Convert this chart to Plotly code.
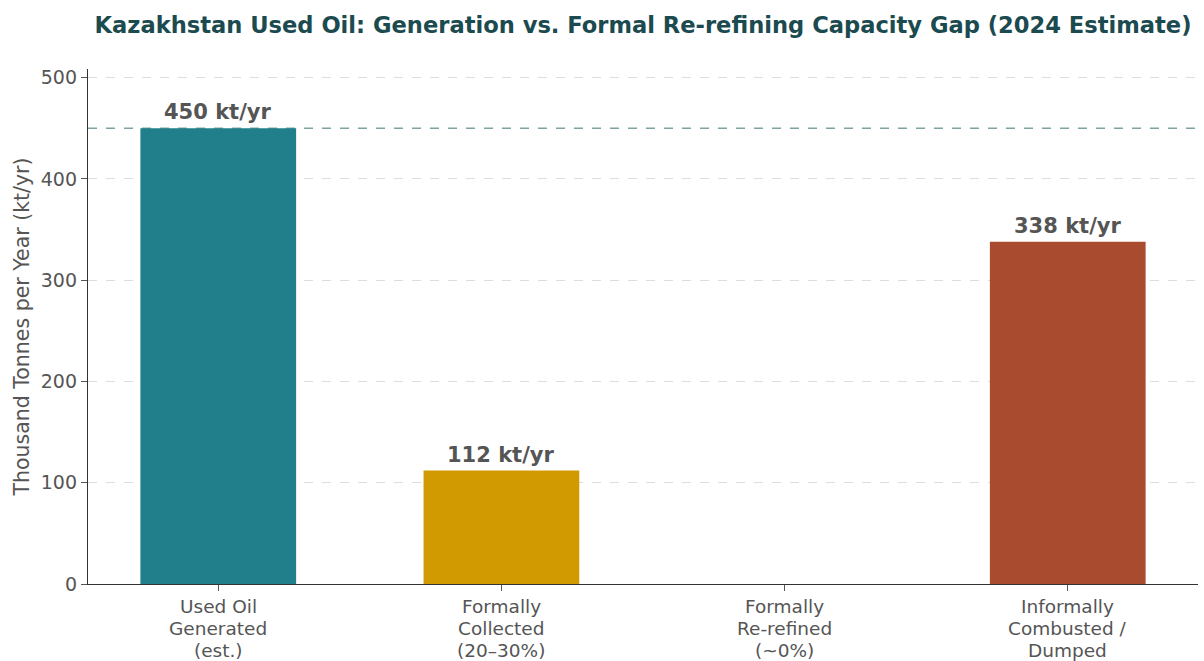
import plotly.graph_objects as go

categories = ["Used Oil<br>Generated<br>(est.)", "Formally<br>Collected<br>(20–30%)",
              "Formally<br>Re-refined<br>(~0%)", "Informally<br>Combusted /<br>Dumped"]
values = [450, 112, 0, 338]
labels = ["450 kt/yr", "112 kt/yr", "", "338 kt/yr"]
colors = ["#217f8c", "#d19a00", "#7a7a7a", "#a84b2f"]
y_ticks = [0, 100, 200, 300, 400, 500]

FONT = "DejaVu Sans"
fig = go.Figure()
fig.add_trace(go.Bar(
    x=list(range(len(categories))), y=values, marker_color=colors, width=0.55,
    marker_line_width=0, hoverinfo="skip", showlegend=False,
))

for i, (v, t) in enumerate(zip(values, labels)):
    if t:
        fig.add_annotation(x=i, y=v, text=f"<b>{t}</b>", showarrow=False,
                           yanchor="bottom", yshift=2,
                           font=dict(family=FONT, size=21, color="#555555"))

# category labels drawn line by line for tighter line spacing
for i, cat in enumerate(categories):
    for j, line in enumerate(cat.split("<br>")):
        fig.add_annotation(x=i, y=0, xref="x", yref="y", text=line, showarrow=False,
                           yanchor="middle", yshift=-22 - 22 * j,
                           font=dict(family=FONT, size=18.5, color="#555555"))

fig.add_shape(type="line", xref="paper", x0=0, x1=1, yref="y", y0=values[0], y1=values[0],
              line=dict(color="#7fa3a5", width=1.3, dash="dash"), layer="below")

fig.update_layout(
    width=1204, height=661,
    margin=dict(l=88, r=6, t=69, b=77, autoexpand=False),
    paper_bgcolor="white", plot_bgcolor="white",
    font=dict(family=FONT, color="#555555"),
    title=dict(text="<b>Kazakhstan Used Oil: Generation vs. Formal Re-refining Capacity Gap (2024 Estimate)</b>",
               x=0.5, xanchor="center", xref="paper", y=0.962, yanchor="middle",
               font=dict(family=FONT, size=22.6, color="#1b4a4f")),
    bargap=0.45,
)
fig.update_xaxes(
    range=[-0.46, 3.46], tickmode="array", tickvals=list(range(len(categories))),
    ticktext=[""] * len(categories), ticks="outside", ticklen=6, tickcolor="#555555",
    showline=True, linecolor="#333333", linewidth=1.3, showgrid=False, zeroline=False,
    automargin=False,
)
fig.update_yaxes(
    range=[0, 508.5], tickmode="array", tickvals=y_ticks, ticks="outside", ticklen=6,
    tickcolor="#555555", showline=True, linecolor="#333333", linewidth=1.3,
    showgrid=True, gridcolor="#dddddd", griddash="dash", gridwidth=1, zeroline=False,
    tickfont=dict(family=FONT, size=19, color="#555555"), automargin=False,
    title=dict(text="Thousand Tonnes per Year (kt/yr)", font=dict(family=FONT, size=20.5, color="#555555"),
               standoff=5),
)

fig.write_html("out.html")
